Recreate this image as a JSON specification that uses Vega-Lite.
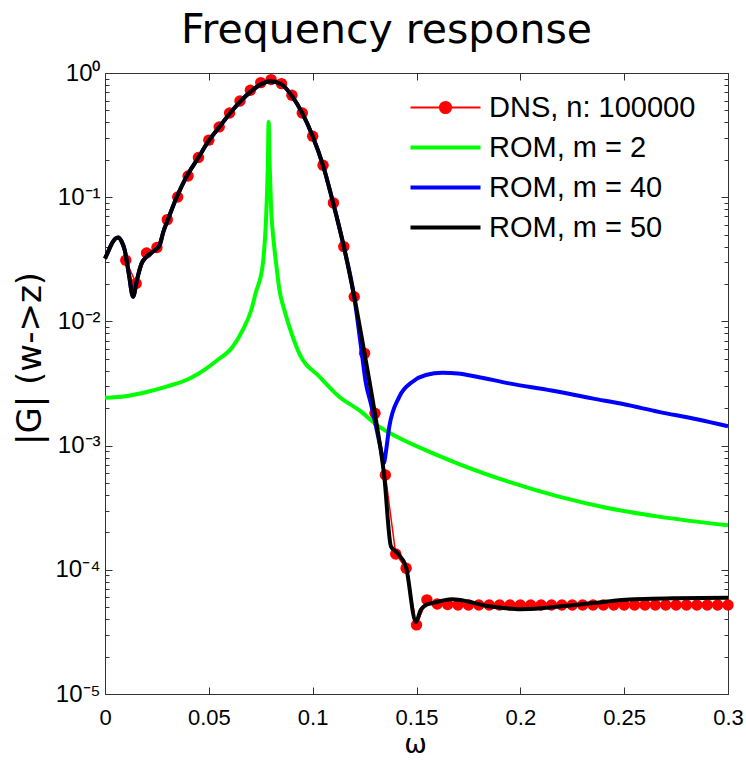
{
  "$schema": "https://vega.github.io/schema/vega-lite/v6.json",
  "width": 623,
  "height": 621,
  "autosize": "none",
  "padding": {"left": 105, "top": 73, "right": 18, "bottom": 66},
  "background": "white",
  "title": {"text": "Frequency response", "font": "DejaVu Sans", "fontSize": 41, "fontWeight": "normal", "color": "black", "anchor": "middle", "dx": -30, "offset": 9},
  "datasets": {
    "dns": [
      {"w": 0.01, "g": 0.0311, "s": "DNS, n: 100000"},
      {"w": 0.015, "g": 0.0202, "s": "DNS, n: 100000"},
      {"w": 0.02, "g": 0.0356, "s": "DNS, n: 100000"},
      {"w": 0.025, "g": 0.0394, "s": "DNS, n: 100000"},
      {"w": 0.03, "g": 0.066, "s": "DNS, n: 100000"},
      {"w": 0.035, "g": 0.1005, "s": "DNS, n: 100000"},
      {"w": 0.04, "g": 0.148, "s": "DNS, n: 100000"},
      {"w": 0.045, "g": 0.209, "s": "DNS, n: 100000"},
      {"w": 0.05, "g": 0.288, "s": "DNS, n: 100000"},
      {"w": 0.055, "g": 0.368, "s": "DNS, n: 100000"},
      {"w": 0.06, "g": 0.477, "s": "DNS, n: 100000"},
      {"w": 0.065, "g": 0.595, "s": "DNS, n: 100000"},
      {"w": 0.07, "g": 0.726, "s": "DNS, n: 100000"},
      {"w": 0.075, "g": 0.837, "s": "DNS, n: 100000"},
      {"w": 0.08, "g": 0.885, "s": "DNS, n: 100000"},
      {"w": 0.085, "g": 0.821, "s": "DNS, n: 100000"},
      {"w": 0.09, "g": 0.662, "s": "DNS, n: 100000"},
      {"w": 0.095, "g": 0.477, "s": "DNS, n: 100000"},
      {"w": 0.1, "g": 0.31, "s": "DNS, n: 100000"},
      {"w": 0.105, "g": 0.181, "s": "DNS, n: 100000"},
      {"w": 0.11, "g": 0.09, "s": "DNS, n: 100000"},
      {"w": 0.115, "g": 0.04, "s": "DNS, n: 100000"},
      {"w": 0.12, "g": 0.0158, "s": "DNS, n: 100000"},
      {"w": 0.125, "g": 0.00553, "s": "DNS, n: 100000"},
      {"w": 0.13, "g": 0.00182, "s": "DNS, n: 100000"},
      {"w": 0.135, "g": 0.00058, "s": "DNS, n: 100000"},
      {"w": 0.14, "g": 0.000134, "s": "DNS, n: 100000"},
      {"w": 0.145, "g": 0.000103, "s": "DNS, n: 100000"},
      {"w": 0.15, "g": 0.000036, "s": "DNS, n: 100000"},
      {"w": 0.155, "g": 0.0000573, "s": "DNS, n: 100000"},
      {"w": 0.16, "g": 0.000053, "s": "DNS, n: 100000"},
      {"w": 0.165, "g": 0.0000525, "s": "DNS, n: 100000"},
      {"w": 0.17, "g": 0.000052, "s": "DNS, n: 100000"},
      {"w": 0.175, "g": 0.000052, "s": "DNS, n: 100000"},
      {"w": 0.18, "g": 0.000052, "s": "DNS, n: 100000"},
      {"w": 0.185, "g": 0.000052, "s": "DNS, n: 100000"},
      {"w": 0.19, "g": 0.000052, "s": "DNS, n: 100000"},
      {"w": 0.195, "g": 0.000052, "s": "DNS, n: 100000"},
      {"w": 0.2, "g": 0.000052, "s": "DNS, n: 100000"},
      {"w": 0.205, "g": 0.000052, "s": "DNS, n: 100000"},
      {"w": 0.21, "g": 0.000052, "s": "DNS, n: 100000"},
      {"w": 0.215, "g": 0.000052, "s": "DNS, n: 100000"},
      {"w": 0.22, "g": 0.000052, "s": "DNS, n: 100000"},
      {"w": 0.225, "g": 0.000052, "s": "DNS, n: 100000"},
      {"w": 0.23, "g": 0.000052, "s": "DNS, n: 100000"},
      {"w": 0.235, "g": 0.000052, "s": "DNS, n: 100000"},
      {"w": 0.24, "g": 0.000052, "s": "DNS, n: 100000"},
      {"w": 0.245, "g": 0.000052, "s": "DNS, n: 100000"},
      {"w": 0.25, "g": 0.000052, "s": "DNS, n: 100000"},
      {"w": 0.255, "g": 0.000052, "s": "DNS, n: 100000"},
      {"w": 0.26, "g": 0.000052, "s": "DNS, n: 100000"},
      {"w": 0.265, "g": 0.000052, "s": "DNS, n: 100000"},
      {"w": 0.27, "g": 0.000052, "s": "DNS, n: 100000"},
      {"w": 0.275, "g": 0.000052, "s": "DNS, n: 100000"},
      {"w": 0.28, "g": 0.000052, "s": "DNS, n: 100000"},
      {"w": 0.285, "g": 0.000052, "s": "DNS, n: 100000"},
      {"w": 0.29, "g": 0.000052, "s": "DNS, n: 100000"},
      {"w": 0.295, "g": 0.000052, "s": "DNS, n: 100000"},
      {"w": 0.3, "g": 0.000052, "s": "DNS, n: 100000"}
    ],
    "m2": [
      {"w": 0, "g": 0.00243}, {"w": 0.01, "g": 0.0025}, {"w": 0.02, "g": 0.0027},
      {"w": 0.03, "g": 0.003}, {"w": 0.04, "g": 0.00342}, {"w": 0.0439, "g": 0.0037},
      {"w": 0.0536, "g": 0.0048}, {"w": 0.0615, "g": 0.00625}, {"w": 0.0663, "g": 0.0085},
      {"w": 0.0704, "g": 0.0123}, {"w": 0.0728, "g": 0.0175}, {"w": 0.075, "g": 0.023},
      {"w": 0.076, "g": 0.029}, {"w": 0.0776, "g": 0.07}, {"w": 0.0784, "g": 0.18},
      {"w": 0.0788, "g": 0.404}, {"w": 0.0793, "g": 0.18}, {"w": 0.08, "g": 0.08},
      {"w": 0.081, "g": 0.048}, {"w": 0.0824, "g": 0.0293}, {"w": 0.084, "g": 0.0179},
      {"w": 0.0864, "g": 0.0123}, {"w": 0.0888, "g": 0.00905}, {"w": 0.0936, "g": 0.0055},
      {"w": 0.1032, "g": 0.0036}, {"w": 0.1128, "g": 0.00247}, {"w": 0.1225, "g": 0.00192},
      {"w": 0.132, "g": 0.00142}, {"w": 0.1417, "g": 0.00115}, {"w": 0.1577, "g": 0.00087},
      {"w": 0.1705, "g": 0.00071}, {"w": 0.1946, "g": 0.00051}, {"w": 0.2186, "g": 0.000388},
      {"w": 0.2426, "g": 0.000313}, {"w": 0.2667, "g": 0.000268}, {"w": 0.3, "g": 0.000228}
    ],
    "m40": [
      {"w": 0, "g": 0.032}, {"w": 0.002, "g": 0.038}, {"w": 0.0035, "g": 0.043},
      {"w": 0.0063, "g": 0.0474}, {"w": 0.008, "g": 0.044}, {"w": 0.0095, "g": 0.0375},
      {"w": 0.0115, "g": 0.024}, {"w": 0.0135, "g": 0.0158}, {"w": 0.0155, "g": 0.022},
      {"w": 0.0175, "g": 0.029}, {"w": 0.0199, "g": 0.033}, {"w": 0.023, "g": 0.0363},
      {"w": 0.0263, "g": 0.041}, {"w": 0.028, "g": 0.052}, {"w": 0.0303, "g": 0.066},
      {"w": 0.0343, "g": 0.098}, {"w": 0.0391, "g": 0.145}, {"w": 0.045, "g": 0.209},
      {"w": 0.05, "g": 0.285}, {"w": 0.055, "g": 0.366}, {"w": 0.06, "g": 0.47},
      {"w": 0.065, "g": 0.585}, {"w": 0.07, "g": 0.705}, {"w": 0.075, "g": 0.81},
      {"w": 0.0795, "g": 0.86}, {"w": 0.085, "g": 0.81}, {"w": 0.09, "g": 0.655},
      {"w": 0.095, "g": 0.475}, {"w": 0.1, "g": 0.31}, {"w": 0.105, "g": 0.18},
      {"w": 0.11, "g": 0.088}, {"w": 0.115, "g": 0.04}, {"w": 0.12, "g": 0.0158},
      {"w": 0.1233, "g": 0.0062}, {"w": 0.1256, "g": 0.0032}, {"w": 0.128, "g": 0.00219},
      {"w": 0.1305, "g": 0.00142}, {"w": 0.1329, "g": 0.00092}, {"w": 0.1342, "g": 0.00072},
      {"w": 0.1355, "g": 0.00095}, {"w": 0.1369, "g": 0.00142}, {"w": 0.1417, "g": 0.00247},
      {"w": 0.1481, "g": 0.00327}, {"w": 0.1545, "g": 0.0037}, {"w": 0.1625, "g": 0.00386},
      {"w": 0.17, "g": 0.0038}, {"w": 0.1785, "g": 0.0036}, {"w": 0.1946, "g": 0.00317},
      {"w": 0.215, "g": 0.00278}, {"w": 0.2346, "g": 0.0024}, {"w": 0.25, "g": 0.00215},
      {"w": 0.2667, "g": 0.00187}, {"w": 0.285, "g": 0.00163}, {"w": 0.3, "g": 0.00143}
    ],
    "m50": [
      {"w": 0, "g": 0.032}, {"w": 0.002, "g": 0.038}, {"w": 0.0035, "g": 0.043},
      {"w": 0.0063, "g": 0.0474}, {"w": 0.008, "g": 0.044}, {"w": 0.0095, "g": 0.0375},
      {"w": 0.0115, "g": 0.024}, {"w": 0.0135, "g": 0.0158}, {"w": 0.0155, "g": 0.022},
      {"w": 0.0175, "g": 0.029}, {"w": 0.0199, "g": 0.033}, {"w": 0.023, "g": 0.0363},
      {"w": 0.0263, "g": 0.041}, {"w": 0.028, "g": 0.052}, {"w": 0.0303, "g": 0.066},
      {"w": 0.0343, "g": 0.098}, {"w": 0.0391, "g": 0.145}, {"w": 0.045, "g": 0.209},
      {"w": 0.05, "g": 0.285}, {"w": 0.055, "g": 0.366}, {"w": 0.06, "g": 0.47},
      {"w": 0.065, "g": 0.585}, {"w": 0.07, "g": 0.705}, {"w": 0.075, "g": 0.81},
      {"w": 0.0795, "g": 0.86}, {"w": 0.085, "g": 0.81}, {"w": 0.09, "g": 0.655},
      {"w": 0.095, "g": 0.475}, {"w": 0.1, "g": 0.31}, {"w": 0.105, "g": 0.18},
      {"w": 0.11, "g": 0.088}, {"w": 0.115, "g": 0.04}, {"w": 0.12, "g": 0.0158},
      {"w": 0.125, "g": 0.0055}, {"w": 0.13, "g": 0.0018}, {"w": 0.1345, "g": 0.00056},
      {"w": 0.1377, "g": 0.000154}, {"w": 0.1409, "g": 0.000136}, {"w": 0.1449, "g": 0.000106},
      {"w": 0.1497, "g": 0.000038}, {"w": 0.152, "g": 0.0000475}, {"w": 0.1545, "g": 0.000052},
      {"w": 0.1577, "g": 0.000054}, {"w": 0.1673, "g": 0.000058}, {"w": 0.175, "g": 0.0000555},
      {"w": 0.1817, "g": 0.000052}, {"w": 0.193, "g": 0.000049}, {"w": 0.2, "g": 0.0000482},
      {"w": 0.21, "g": 0.000049}, {"w": 0.2186, "g": 0.0000506}, {"w": 0.235, "g": 0.000054},
      {"w": 0.2507, "g": 0.0000573}, {"w": 0.2747, "g": 0.000059}, {"w": 0.3, "g": 0.0000595}
    ]
  },
  "resolve": {"axis": {"x": "independent", "y": "independent"}},
  "layer": [
    {
      "data": {"name": "dns"},
      "mark": {"type": "line"},
      "encoding": {
        "x": {"field": "w", "type": "quantitative",
          "scale": {"domain": [0, 0.3], "nice": false, "zero": false},
          "axis": {"orient": "bottom", "values": [0, 0.05, 0.1, 0.15, 0.2, 0.25, 0.3], "format": ".2~f",
            "tickSize": -7, "labelPadding": 20, "labelFlush": false, "labelOverlap": false,
            "title": "ω", "titleX": 310, "titleY": 58, "titleBaseline": "alphabetic", "titleAlign": "center",
            "titleFont": "DejaVu Sans", "titleFontSize": 27, "titleFontWeight": "normal", "titleColor": "black"}},
        "y": {"field": "g", "type": "quantitative",
          "scale": {"type": "log", "domain": [0.00001, 1], "nice": false},
          "axis": {"orient": "left", "values": [1, 0.1, 0.01, 0.001, 0.0001, 0.00001],
            "labelExpr": "['10⁰','10⁻¹','10⁻²','10⁻³','10⁻⁴','10⁻⁵'][round(-log(datum.value)/LN10)]",
            "tickSize": -7, "labelPadding": 12, "labelFontSize": 24, "labelOverlap": false, "labelFlush": false,
            "title": "|G| (w->z)", "titleX": -75, "titleY": 285, "titleAngle": -90, "titleAlign": "center", "titleBaseline": "middle",
            "titleFont": "DejaVu Sans", "titleFontSize": 34, "titleFontWeight": "normal", "titleColor": "black"}},
        "color": {"field": "s", "type": "nominal",
          "scale": {"domain": ["DNS, n: 100000", "ROM, m = 2", "ROM, m = 40", "ROM, m = 50"], "range": ["#ff0000", "#00ff00", "#0000ff", "#000000"]},
          "legend": {"title": null, "orient": "none", "legendX": 326, "legendY": 20, "padding": 0,
            "symbolSize": 100,
            "symbolType": {"expr": "datum.value === 'DNS, n: 100000' ? 'M-7,0H7M-1.12,0A1.12,1.12 0 1,0 1.12,0A1.12,1.12 0 1,0 -1.12,0ZM-0.78,0A0.78,0.78 0 1,0 0.78,0A0.78,0.78 0 1,0 -0.78,0ZM-0.44,0A0.44,0.44 0 1,0 0.44,0A0.44,0.44 0 1,0 -0.44,0ZM-0.12,0A0.12,0.12 0 1,0 0.12,0A0.12,0.12 0 1,0 -0.12,0Z' : 'M-7,0H7'"},
            "symbolStrokeWidth": {"expr": "datum.value === 'DNS, n: 100000' ? 2 : 4"},
            "labelFont": "Liberation Sans", "labelFontSize": 29,
            "labelColor": "black", "labelOffset": 29, "rowPadding": 10, "labelLimit": 400}
        },
        "strokeWidth": {"value": 1.5}
      }
    },
    {
      "data": {"name": "dns"},
      "mark": {"type": "point", "filled": true, "size": 130, "color": "#ff0000", "opacity": 1},
      "encoding": {
        "x": {"field": "w", "type": "quantitative",
          "axis": {"orient": "top", "values": [0, 0.05, 0.1, 0.15, 0.2, 0.25, 0.3], "tickSize": -7, "labels": false, "title": null}},
        "y": {"field": "g", "type": "quantitative",
          "axis": {"orient": "left", "values": [0.00002, 0.00003, 0.00004, 0.00005, 0.00006, 0.00007, 0.00008, 0.00009, 0.0002, 0.0003, 0.0004, 0.0005, 0.0006, 0.0007, 0.0008, 0.0009, 0.002, 0.003, 0.004, 0.005, 0.006, 0.007, 0.008, 0.009, 0.02, 0.03, 0.04, 0.05, 0.06, 0.07, 0.08, 0.09, 0.2, 0.3, 0.4, 0.5, 0.6, 0.7, 0.8, 0.9], "tickSize": -4, "labels": false, "title": null}}
      }
    },
    {
      "data": {"name": "m2"},
      "mark": {"type": "line", "color": "#00ff00", "strokeWidth": 4, "interpolate": "monotone"},
      "encoding": {
        "x": {"field": "w", "type": "quantitative", "axis": null},
        "y": {"field": "g", "type": "quantitative",
          "axis": {"orient": "right", "values": [1, 0.1, 0.01, 0.001, 0.0001, 0.00001], "tickSize": -7, "labels": false, "title": null}}
      }
    },
    {
      "data": {"name": "m40"},
      "mark": {"type": "line", "color": "#0000ff", "strokeWidth": 4, "interpolate": "monotone"},
      "encoding": {
        "x": {"field": "w", "type": "quantitative", "axis": null},
        "y": {"field": "g", "type": "quantitative",
          "axis": {"orient": "right", "values": [0.00002, 0.00003, 0.00004, 0.00005, 0.00006, 0.00007, 0.00008, 0.00009, 0.0002, 0.0003, 0.0004, 0.0005, 0.0006, 0.0007, 0.0008, 0.0009, 0.002, 0.003, 0.004, 0.005, 0.006, 0.007, 0.008, 0.009, 0.02, 0.03, 0.04, 0.05, 0.06, 0.07, 0.08, 0.09, 0.2, 0.3, 0.4, 0.5, 0.6, 0.7, 0.8, 0.9], "tickSize": -4, "labels": false, "title": null}}
      }
    },
    {
      "data": {"name": "m50"},
      "mark": {"type": "line", "color": "#000000", "strokeWidth": 4, "interpolate": "monotone"},
      "encoding": {
        "x": {"field": "w", "type": "quantitative", "axis": null},
        "y": {"field": "g", "type": "quantitative", "axis": null}
      }
    }
  ],
  "config": {
    "view": {"stroke": "#333333", "strokeWidth": 1},
    "axis": {"domain": false, "grid": false, "tickColor": "#333333", "tickWidth": 1,
      "labelFont": "Liberation Sans", "labelFontSize": 22, "labelColor": "black"}
  }
}
